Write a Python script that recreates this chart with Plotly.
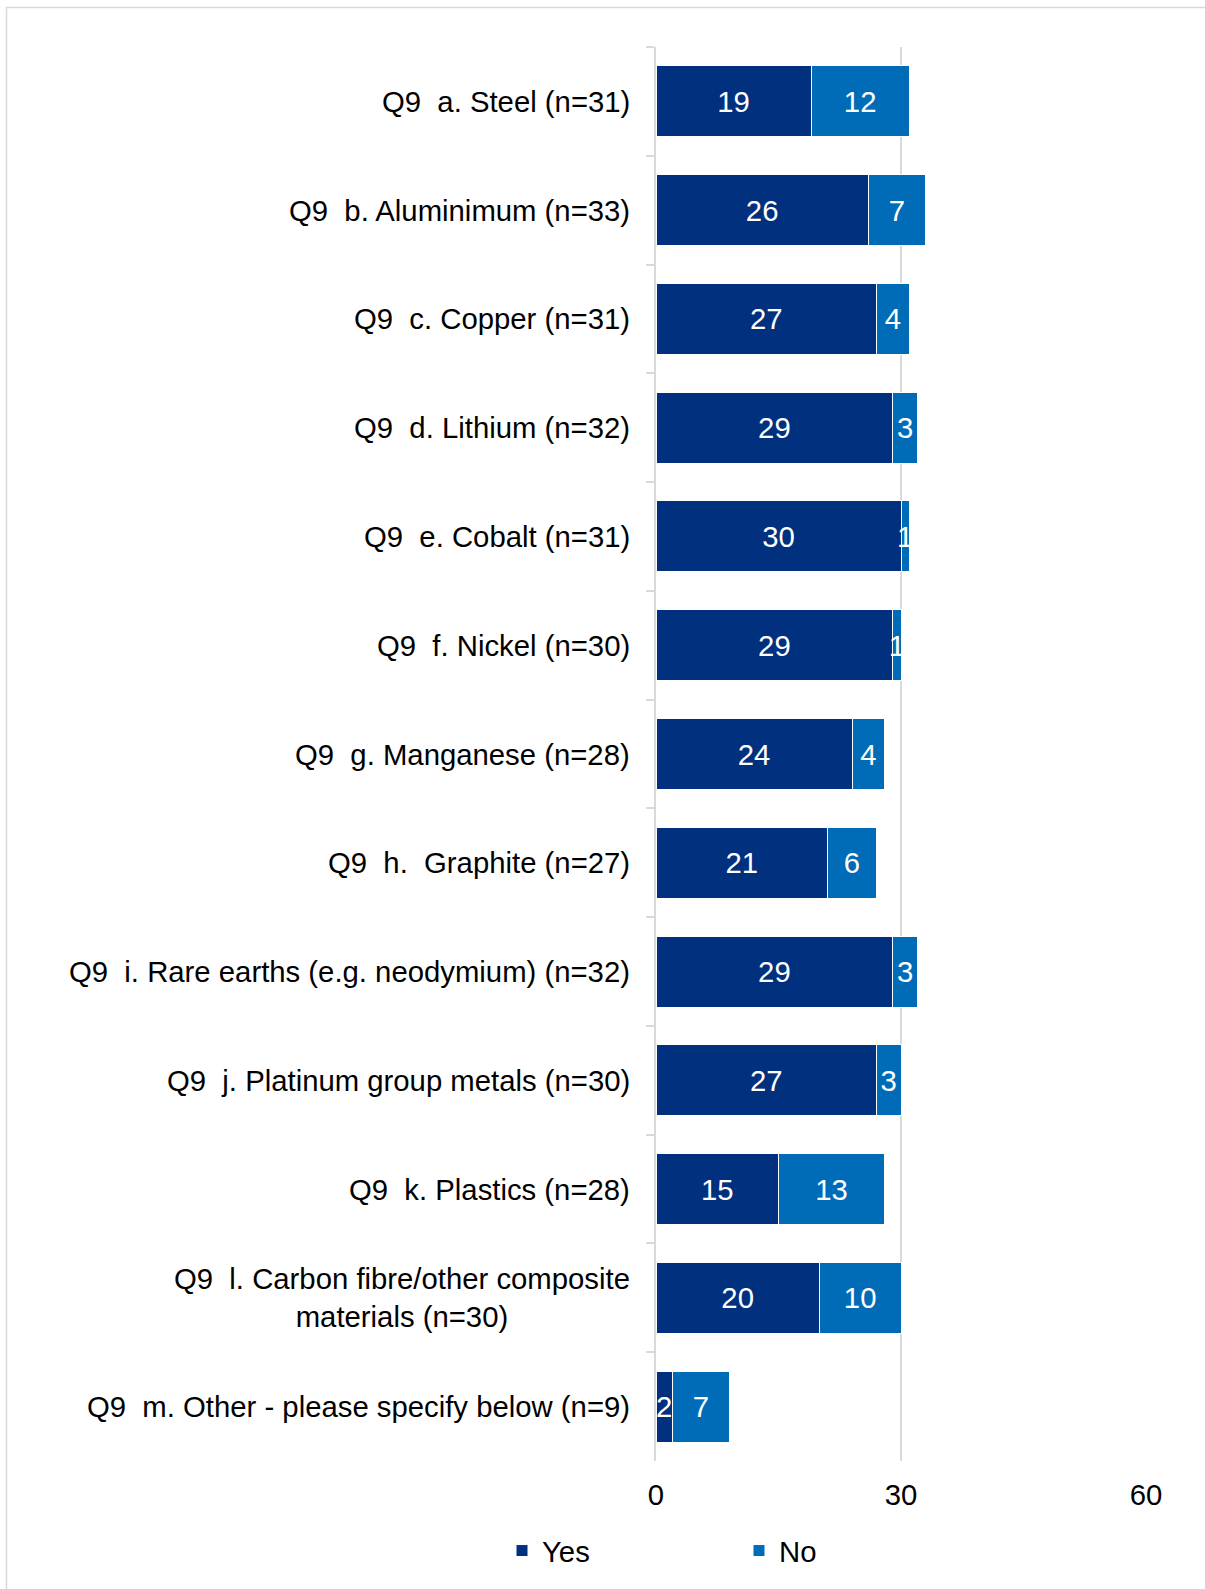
import plotly.graph_objects as go

# Survey responses: Q9 materials, count of Yes / No answers
categories = [
    "Q9  a. Steel (n=31)",
    "Q9  b. Aluminimum (n=33)",
    "Q9  c. Copper (n=31)",
    "Q9  d. Lithium (n=32)",
    "Q9  e. Cobalt (n=31)",
    "Q9  f. Nickel (n=30)",
    "Q9  g. Manganese (n=28)",
    "Q9  h.  Graphite (n=27)",
    "Q9  i. Rare earths (e.g. neodymium) (n=32)",
    "Q9  j. Platinum group metals (n=30)",
    "Q9  k. Plastics (n=28)",
    "Q9  l. Carbon fibre/other composite<br>materials (n=30)",
    "Q9  m. Other - please specify below (n=9)",
]
yes_counts = [19, 26, 27, 29, 30, 29, 24, 21, 29, 27, 15, 20, 2]
no_counts = [12, 7, 4, 3, 1, 1, 4, 6, 3, 3, 13, 10, 7]
x_ticks = [0, 30, 60]

W, H = 1205, 1589
L, R, T, B = 656, 59, 47, 128
PW, PH = W - L - R, H - T - B

FONT = "Liberation Sans, Arial, sans-serif"
FS = 29.3
GRID = "#D9D9D9"
YES_COLOR = "#00307E"
NO_COLOR = "#006CB8"


def px_x(p):
    return (p - L) / PW


def px_y(p):
    return (H - B - p) / PH


fig = go.Figure()
for name, vals, color in [("Yes", yes_counts, YES_COLOR), ("No", no_counts, NO_COLOR)]:
    fig.add_trace(go.Bar(
        name=name,
        y=categories,
        x=vals,
        orientation="h",
        marker=dict(color=color, line=dict(color="white", width=1)),
        text=[str(v) for v in vals],
        textposition="inside",
        insidetextanchor="middle",
        textangle=0,
        textfont=dict(family=FONT, size=FS, color="white"),
    ))

# Category labels, centred line by line and right-aligned against the axis
annotations = [
    dict(
        text=c, x=px_x(632), xref="paper", y=c, yref="y",
        xanchor="right", yanchor="middle", align="center",
        showarrow=False, font=dict(family=FONT, size=FS, color="black"),
    )
    for c in categories
]

fig.update_layout(
    width=W, height=H,
    margin=dict(l=L, r=R, t=T, b=B, pad=0),
    barmode="stack",
    bargap=0.347,
    plot_bgcolor="white",
    paper_bgcolor="white",
    font=dict(family=FONT, size=FS, color="black"),
    uniformtext=dict(minsize=FS, mode="show"),
    xaxis=dict(
        range=[0, 60],
        tickvals=x_ticks,
        ticktext=[str(v) for v in x_ticks],
        showgrid=True, gridcolor=GRID, gridwidth=1.5,
        zeroline=False, showline=False, ticks="",
        tickfont=dict(family=FONT, size=FS, color="black"),
        ticklabelstandoff=14,
    ),
    yaxis=dict(
        type="category",
        categoryorder="array",
        categoryarray=categories,
        autorange="reversed",
        showticklabels=False,
        showgrid=False, zeroline=False,
        showline=True, linecolor=GRID, linewidth=1.5,
        ticks="outside", tickson="boundaries", ticklen=8,
        tickcolor=GRID, tickwidth=1.5,
    ),
    legend=dict(
        orientation="h",
        x=px_x(502), xanchor="left",
        y=px_y(1551), yanchor="middle",
        entrywidth=192, entrywidthmode="pixels",
        font=dict(family=FONT, size=FS, color="black"),
        bgcolor="rgba(0,0,0,0)",
        traceorder="normal",
    ),
    annotations=annotations,
    shapes=[dict(
        type="rect", xref="paper", yref="paper",
        x0=px_x(6.5), x1=px_x(1215), y0=px_y(1600), y1=px_y(7.5),
        line=dict(color=GRID, width=1.5), fillcolor="rgba(0,0,0,0)",
        layer="below",
    )],
)

fig.write_html("out.html")
